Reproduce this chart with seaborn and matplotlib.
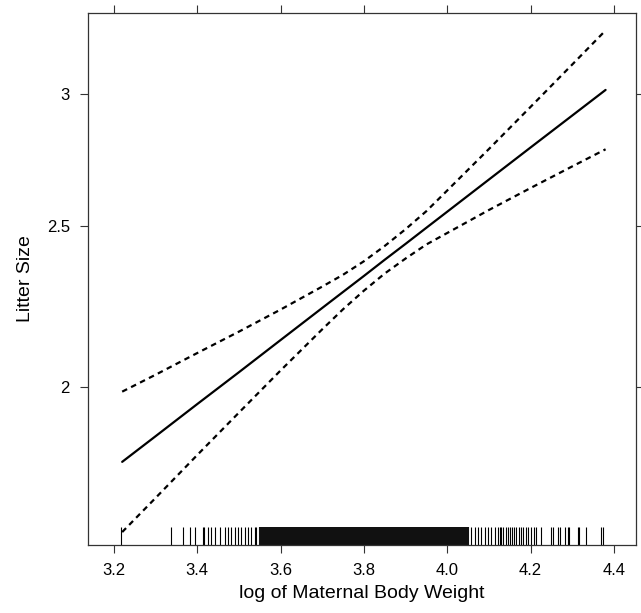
import numpy as np
import pandas as pd
import matplotlib
matplotlib.use("Agg")
import matplotlib.pyplot as plt
import matplotlib.ticker as mticker
import seaborn as sns

# Effect curve
x_vals = [3.22, 3.30, 3.40, 3.50, 3.60, 3.70, 3.75, 3.80, 3.85, 3.90, 3.95, 4.00, 4.10, 4.20, 4.30, 4.38]
fit_vals = [1.803, 1.868, 1.953, 2.041, 2.134, 2.231, 2.281, 2.332, 2.385, 2.438, 2.493, 2.549, 2.665, 2.786, 2.912, 3.017]
upper_vals = [1.987, 2.034, 2.096, 2.159, 2.226, 2.298, 2.336, 2.380, 2.431, 2.488, 2.551, 2.625, 2.780, 2.947, 3.125, 3.276]
lower_vals = [1.636, 1.715, 1.820, 1.930, 2.046, 2.166, 2.227, 2.285, 2.340, 2.389, 2.436, 2.475, 2.555, 2.634, 2.714, 2.779]

# Rug of observed log maternal body weights (approximate)
rug_sparse_low = [3.218, 3.338, 3.367, 3.383, 3.394, 3.414, 3.416, 3.426, 3.434, 3.442,
                  3.454, 3.466, 3.474, 3.482, 3.490, 3.498, 3.504, 3.514, 3.522, 3.530,
                  3.538, 3.542]
rug_dense = [3.550, 3.554, 3.558, 3.562, 3.566, 3.570, 3.574, 3.578, 3.582, 3.586,
             3.590, 3.594, 3.598, 3.602, 3.606, 3.610, 3.614, 3.618, 3.622, 3.626,
             3.630, 3.634, 3.638, 3.642, 3.646, 3.650, 3.654, 3.658, 3.662, 3.666,
             3.670, 3.674, 3.678, 3.682, 3.686, 3.690, 3.694, 3.698, 3.702, 3.706,
             3.710, 3.714, 3.718, 3.722, 3.726, 3.730, 3.734, 3.738, 3.742, 3.746,
             3.750, 3.754, 3.758, 3.762, 3.766, 3.770, 3.774, 3.778, 3.782, 3.786,
             3.790, 3.794, 3.798, 3.802, 3.806, 3.810, 3.814, 3.818, 3.822, 3.826,
             3.830, 3.834, 3.838, 3.842, 3.846, 3.850, 3.854, 3.858, 3.862, 3.866,
             3.870, 3.874, 3.878, 3.882, 3.886, 3.890, 3.894, 3.898, 3.902, 3.906,
             3.910, 3.914, 3.918, 3.922, 3.926, 3.930, 3.934, 3.938, 3.942, 3.946,
             3.950, 3.954, 3.958, 3.962, 3.966, 3.970, 3.974, 3.978, 3.982, 3.986,
             3.990, 3.994, 3.998, 4.002, 4.006, 4.010, 4.014, 4.018, 4.022, 4.026,
             4.030, 4.034, 4.038, 4.042, 4.046, 4.050]
rug_sparse_high = [4.058, 4.066, 4.074, 4.082, 4.090, 4.098, 4.106, 4.114, 4.122, 4.126,
                   4.130, 4.134, 4.140, 4.146, 4.150, 4.155, 4.160, 4.166, 4.172, 4.177,
                   4.182, 4.188, 4.194, 4.201, 4.209, 4.214, 4.225, 4.249, 4.253, 4.265,
                   4.270, 4.282, 4.289, 4.292, 4.313, 4.317, 4.334, 4.369, 4.374]

x_ticks = [3.2, 3.4, 3.6, 3.8, 4.0, 4.2, 4.4]
x_tick_labels = ["3.2", "3.4", "3.6", "3.8", "4.0", "4.2", "4.4"]
y_ticks = [2.0, 2.5, 3.0]
y_tick_labels = ["2", "2.5", "3"]

sns.set_style("ticks")
plt.rcParams["font.family"] = ["Liberation Sans", "DejaVu Sans"]

df = pd.DataFrame({"x": x_vals, "fit": fit_vals, "upper": upper_vals, "lower": lower_vals})
rug_thin = pd.DataFrame({"x": rug_sparse_low + rug_sparse_high})
rug_thick = pd.DataFrame({"x": rug_dense})

fig = plt.figure(figsize=(6.41, 6.13), dpi=100)
ax = fig.add_axes([88 / 641, 1 - 545 / 613, (636 - 88) / 641, (545 - 13) / 613])

sns.lineplot(data=df, x="x", y="fit", ax=ax, color="black", lw=1.6)
sns.lineplot(data=df, x="x", y="upper", ax=ax, color="black", lw=1.6, linestyle=(0, (2.5, 2.0)))
sns.lineplot(data=df, x="x", y="lower", ax=ax, color="black", lw=1.6, linestyle=(0, (2.5, 2.0)))
sns.rugplot(data=rug_thin, x="x", ax=ax, height=0.034, color="black", linewidth=0.8)
sns.rugplot(data=rug_thick, x="x", ax=ax, height=0.034, color="#111111", linewidth=1.5)

ax.set_yscale("log")
ax.set_xlim(3.138, 4.453)
ax.set_ylim(1.607, 3.356)
ax.set_xticks(x_ticks)
ax.set_xticklabels(x_tick_labels)
ax.set_yticks(y_ticks)
ax.set_yticklabels(y_tick_labels)
ax.yaxis.set_minor_locator(mticker.NullLocator())
ax.yaxis.set_minor_formatter(mticker.NullFormatter())

ax.tick_params(axis="both", which="major", direction="out", length=6, width=0.8,
               color="#333333", labelcolor="black", labelsize=12, pad=7,
               top=True, right=True, labeltop=False, labelright=False)
for s in ax.spines.values():
    s.set_visible(True)
    s.set_linewidth(0.9)
    s.set_color("#333333")

ax.set_xlabel("log of Maternal Body Weight", fontsize=14, labelpad=5, color="black")
ax.set_ylabel("Litter Size", fontsize=14, labelpad=9, color="black")

fig.savefig("out.png", dpi=100)
